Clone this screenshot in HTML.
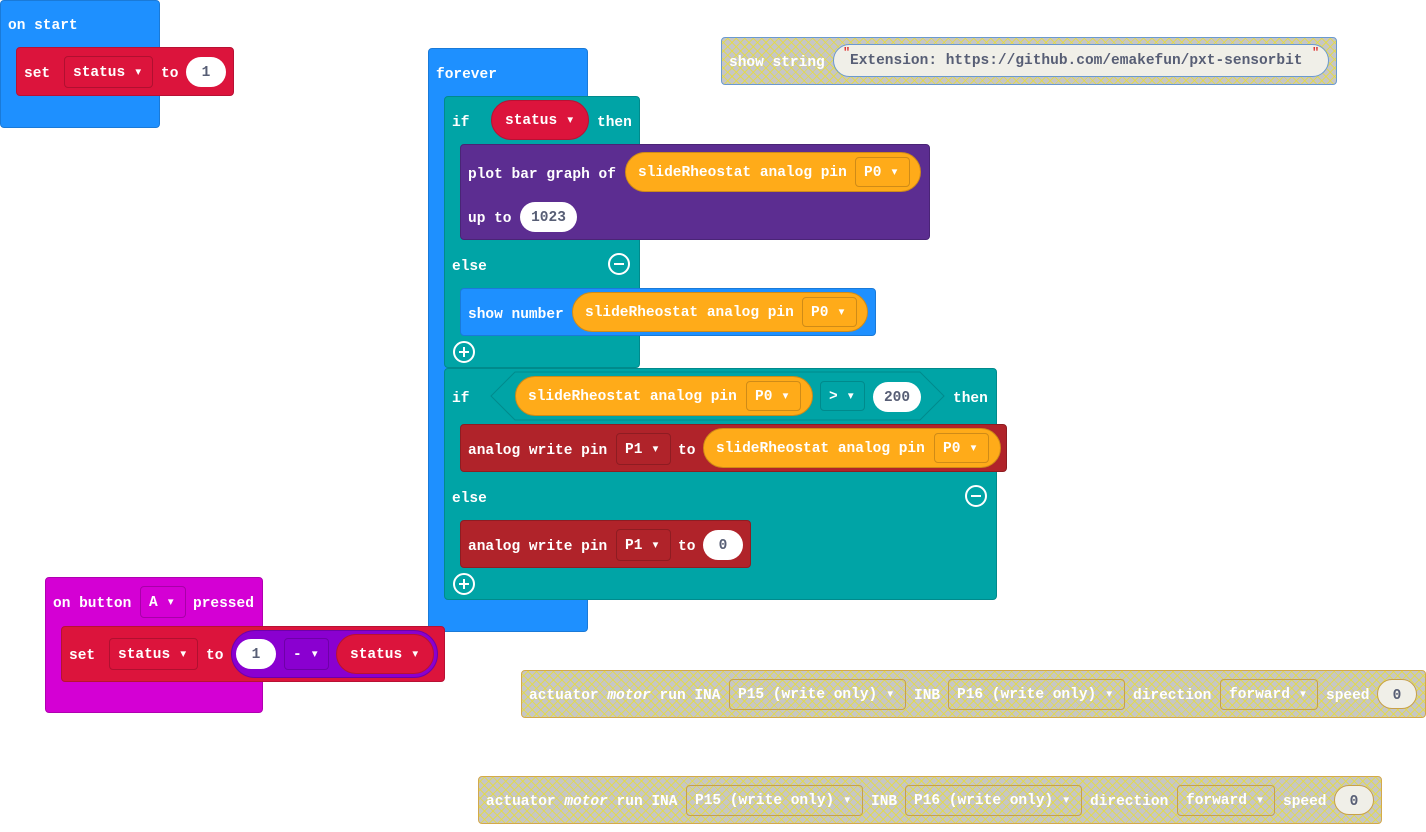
<!DOCTYPE html>
<html><head><meta charset="utf-8"><style>
body{margin:0;width:1426px;height:832px;background:#fff;position:relative;overflow:hidden;font-family:"Liberation Mono",monospace;font-weight:bold;font-size:14.5px}
div,span{position:absolute;box-sizing:border-box}
.b{border-radius:4px}
.t{color:#fff;white-space:nowrap;line-height:32px;height:32px;margin-top:2px}
.dd{border-radius:4px;color:#fff;white-space:nowrap;line-height:32px;padding:0 8px}
.ov{background:#fff;color:#575e75;border-radius:16px;text-align:center;line-height:32px;white-space:nowrap}
.or{background:#ffab19;border:1px solid #cf8b17;border-radius:20px;color:#fff;line-height:40px;padding-left:12px;white-space:nowrap}
.hat{background-color:#c6c6c6;background-image:repeating-linear-gradient(45deg,rgba(230,220,60,.8) 0 1px,transparent 1px 6px),repeating-linear-gradient(-45deg,rgba(230,220,60,.8) 0 1px,transparent 1px 6px);border:1px solid #d4a94a;border-radius:4px}
.hdd{border:1px solid #c8a04a;border-radius:4px;color:#fff;line-height:30px;padding:0 8px;white-space:nowrap}
.teal{background:#00a4a6;border:1px solid #008a8c}
</style></head><body>

<!-- on start -->
<div class="b" style="left:0;top:0;width:160px;height:128px;background:#1e90ff;border:1px solid #1a7ad8"></div>
<span class="t" style="left:8px;top:8px">on start</span>
<div class="b" style="left:16px;top:47px;width:218px;height:49px;background:#dc143c;border:1px solid #b81133"></div>
<span class="t" style="left:24px;top:56px">set</span>
<div class="dd" style="left:64px;top:56px;width:89px;height:32px;border:1px solid #b01030">status ▾</div>
<span class="t" style="left:161px;top:56px">to</span>
<div class="ov" style="left:186px;top:57px;width:40px;height:30px">1</div>

<!-- forever -->
<div class="b" style="left:428px;top:48px;width:160px;height:584px;background:#1e90ff;border:1px solid #1a7ad8"></div>
<span class="t" style="left:436px;top:57px">forever</span>

<!-- if 1 -->
<div class="b teal" style="left:444px;top:96px;width:196px;height:272px"></div>
<span class="t" style="left:452px;top:105px">if</span>
<div style="left:491px;top:100px;width:98px;height:40px;border-radius:20px;background:#dc143c;border:1px solid #b81133;color:#fff;line-height:40px;padding-left:13px">status ▾</div>
<span class="t" style="left:597px;top:105px">then</span>
<div class="b" style="left:460px;top:144px;width:470px;height:96px;background:#5c2d91;border:1px solid #4a2476"></div>
<span class="t" style="left:468px;top:157px">plot bar graph of</span>
<div class="or" style="left:625px;top:152px;width:296px;height:40px">slideRheostat analog pin</div>
<div class="hdd" style="left:855px;top:157px;width:55px;height:30px;border-color:#cf8b17">P0 ▾</div>
<span class="t" style="left:468px;top:201px">up to</span>
<div class="ov" style="left:520px;top:202px;width:57px;height:30px">1023</div>
<span class="t" style="left:452px;top:249px">else</span>
<div style="left:608px;top:253px;width:22px;height:22px;border:2px solid #fff;border-radius:50%"><div style="left:4px;top:8px;width:10px;height:2px;background:#fff"></div></div>
<div class="b" style="left:460px;top:288px;width:416px;height:48px;background:#1e90ff;border:1px solid #1a7ad8"></div>
<span class="t" style="left:468px;top:297px">show number</span>
<div class="or" style="left:572px;top:292px;width:296px;height:40px">slideRheostat analog pin</div>
<div class="hdd" style="left:802px;top:297px;width:55px;height:30px;border-color:#cf8b17">P0 ▾</div>
<div style="left:453px;top:341px;width:22px;height:22px;border:2px solid #fff;border-radius:50%"><div style="left:4px;top:8px;width:10px;height:2px;background:#fff"></div><div style="left:8px;top:4px;width:2px;height:10px;background:#fff"></div></div>

<!-- if 2 -->
<div class="b teal" style="left:444px;top:368px;width:553px;height:232px"></div>
<span class="t" style="left:452px;top:381px">if</span>
<svg style="position:absolute;left:490px;top:371px" width="456" height="50"><polygon points="25,1 430,1 454,25 430,49 25,49 1,25" fill="#00a4a6" stroke="#008a8c"/></svg>
<div class="or" style="left:515px;top:376px;width:298px;height:40px">slideRheostat analog pin</div>
<div class="hdd" style="left:746px;top:381px;width:55px;height:30px;border-color:#cf8b17">P0 ▾</div>
<div class="hdd" style="left:820px;top:381px;width:45px;height:30px;border-color:#008a8c;background:#00a4a6">&gt; ▾</div>
<div class="ov" style="left:873px;top:382px;width:48px;height:30px">200</div>
<span class="t" style="left:953px;top:381px">then</span>
<div class="b" style="left:460px;top:424px;width:547px;height:48px;background:#b0232a;border:1px solid #8e1c22"></div>
<span class="t" style="left:468px;top:433px">analog write pin</span>
<div class="dd" style="left:616px;top:433px;width:55px;height:32px;border:1px solid #8e1c22">P1 ▾</div>
<span class="t" style="left:678px;top:433px">to</span>
<div class="or" style="left:703px;top:428px;width:298px;height:40px">slideRheostat analog pin</div>
<div class="hdd" style="left:934px;top:433px;width:55px;height:30px;border-color:#cf8b17">P0 ▾</div>
<span class="t" style="left:452px;top:481px">else</span>
<div style="left:965px;top:485px;width:22px;height:22px;border:2px solid #fff;border-radius:50%"><div style="left:4px;top:8px;width:10px;height:2px;background:#fff"></div></div>
<div class="b" style="left:460px;top:520px;width:291px;height:48px;background:#b0232a;border:1px solid #8e1c22"></div>
<span class="t" style="left:468px;top:529px">analog write pin</span>
<div class="dd" style="left:616px;top:529px;width:55px;height:32px;border:1px solid #8e1c22">P1 ▾</div>
<span class="t" style="left:678px;top:529px">to</span>
<div class="ov" style="left:703px;top:530px;width:40px;height:30px">0</div>
<div style="left:453px;top:573px;width:22px;height:22px;border:2px solid #fff;border-radius:50%"><div style="left:4px;top:8px;width:10px;height:2px;background:#fff"></div><div style="left:8px;top:4px;width:2px;height:10px;background:#fff"></div></div>

<!-- show string -->
<div class="hat" style="left:721px;top:37px;width:616px;height:48px;border-color:#6a9ad0"></div>
<span class="t" style="left:729px;top:45px">show string</span>
<div style="left:833px;top:44px;width:496px;height:33px;border-radius:17px;background:#f0efe8;border:1px solid #6a9ad0;color:#575e75;line-height:33px;padding-left:16px;white-space:nowrap">Extension: https://github.com/emakefun/pxt-sensorbit</div>
<span style="left:843px;top:46px;color:#d33;font-size:12px">"</span>
<span style="left:1312px;top:46px;color:#d33;font-size:12px">"</span>

<!-- on button -->
<div class="b" style="left:45px;top:577px;width:218px;height:136px;background:#d400d4;border:1px solid #b000b0"></div>
<span class="t" style="left:53px;top:586px">on button</span>
<div class="dd" style="left:140px;top:586px;width:46px;height:32px;border:1px solid #a800a8">A ▾</div>
<span class="t" style="left:193px;top:586px">pressed</span>
<div class="b" style="left:61px;top:626px;width:384px;height:56px;background:#dc143c;border:1px solid #b81133"></div>
<span class="t" style="left:69px;top:638px">set</span>
<div class="dd" style="left:109px;top:638px;width:89px;height:32px;border:1px solid #b01030">status ▾</div>
<span class="t" style="left:206px;top:638px">to</span>
<div style="left:231px;top:630px;width:207px;height:48px;border-radius:24px;background:#8a00d0;border:1px solid #6e00a8"></div>
<div class="ov" style="left:236px;top:639px;width:40px;height:30px">1</div>
<div class="dd" style="left:284px;top:638px;width:45px;height:32px;border:1px solid #6e00a8">- ▾</div>
<div style="left:336px;top:634px;width:98px;height:40px;border-radius:20px;background:#dc143c;border:1px solid #b81133;color:#fff;line-height:40px;padding-left:13px">status ▾</div>

<!-- actuator 1 -->
<div class="hat" style="left:521px;top:670px;width:905px;height:48px"></div>
<span class="t" style="left:529px;top:678px">actuator <i>motor</i> run INA</span>
<div class="hdd" style="left:729px;top:679px;width:177px;height:31px">P15 (write only) ▾</div>
<span class="t" style="left:914px;top:678px">INB</span>
<div class="hdd" style="left:948px;top:679px;width:177px;height:31px">P16 (write only) ▾</div>
<span class="t" style="left:1133px;top:678px">direction</span>
<div class="hdd" style="left:1220px;top:679px;width:98px;height:31px">forward ▾</div>
<span class="t" style="left:1326px;top:678px">speed</span>
<div class="ov" style="left:1377px;top:679px;width:40px;height:30px;background:#f0efe8;border:1px solid #c8a04a">0</div>

<!-- actuator 2 -->
<div class="hat" style="left:478px;top:776px;width:904px;height:48px"></div>
<span class="t" style="left:486px;top:784px">actuator <i>motor</i> run INA</span>
<div class="hdd" style="left:686px;top:785px;width:177px;height:31px">P15 (write only) ▾</div>
<span class="t" style="left:871px;top:784px">INB</span>
<div class="hdd" style="left:905px;top:785px;width:177px;height:31px">P16 (write only) ▾</div>
<span class="t" style="left:1090px;top:784px">direction</span>
<div class="hdd" style="left:1177px;top:785px;width:98px;height:31px">forward ▾</div>
<span class="t" style="left:1283px;top:784px">speed</span>
<div class="ov" style="left:1334px;top:785px;width:40px;height:30px;background:#f0efe8;border:1px solid #c8a04a">0</div>

</body></html>
